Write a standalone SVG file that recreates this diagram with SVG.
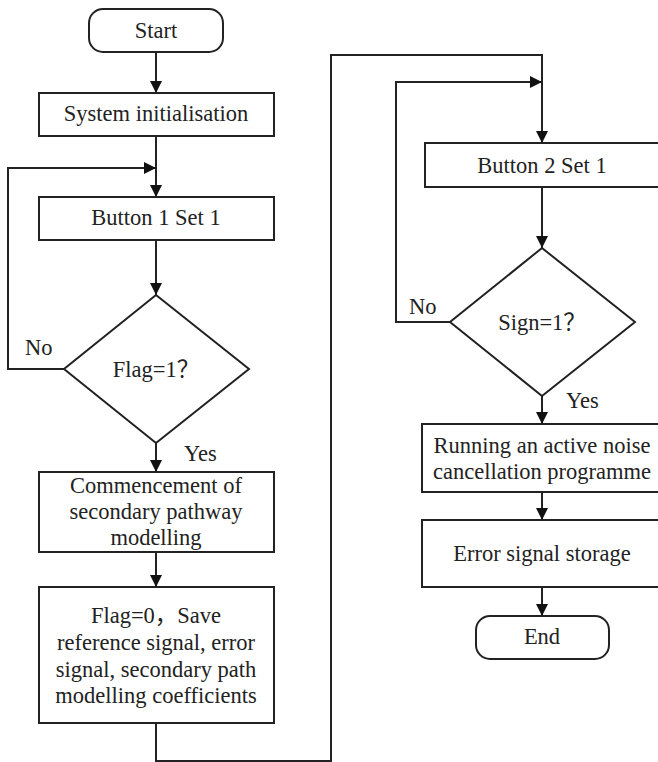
<svg xmlns="http://www.w3.org/2000/svg" width="658" height="762" viewBox="0 0 658 762">
<defs>
<marker id="ah" viewBox="0 0 12 12" refX="12" refY="6" markerWidth="12" markerHeight="12" markerUnits="userSpaceOnUse" orient="auto">
<path d="M0,0 L12,6 L0,12 Z" fill="#111"/>
</marker>
<style>
.box{fill:#fff;stroke:#222;stroke-width:2}
.ln{fill:none;stroke:#222;stroke-width:2}
text{font-family:'Liberation Serif','Times New Roman','DejaVu Serif','Noto Sans CJK SC',serif;font-size:22.5px;fill:#222}
.t{text-anchor:middle}
</style>
</defs>
<rect width="658" height="762" fill="#fff"/>
<g id="connectors">
<path class="ln" d="M156,52 V93" marker-end="url(#ah)"/>
<path class="ln" d="M156,136 V197" marker-end="url(#ah)"/>
<path class="ln" d="M64,369 H8 V168 H156" marker-end="url(#ah)"/>
<path class="ln" d="M156,240 V295" marker-end="url(#ah)"/>
<path class="ln" d="M156,443 V472" marker-end="url(#ah)"/>
<path class="ln" d="M156,552 V587" marker-end="url(#ah)"/>
<path class="ln" d="M156,723 V761 H331 V55 H542 V143" marker-end="url(#ah)"/>
<path class="ln" d="M450,322 H396 V82 H542" marker-end="url(#ah)"/>
<path class="ln" d="M542,187 V248" marker-end="url(#ah)"/>
<path class="ln" d="M542,396 V424" marker-end="url(#ah)"/>
<path class="ln" d="M542,492 V520" marker-end="url(#ah)"/>
<path class="ln" d="M542,587 V616" marker-end="url(#ah)"/>
<text x="25" y="355">No</text>
<text x="184" y="461">Yes</text>
<text x="409" y="314">No</text>
<text x="566" y="408">Yes</text>
</g>
<g id="start">
<rect class="box" x="89" y="9" width="134" height="43" rx="14"/>
<text class="t" x="156" y="38">Start</text>
</g>
<g id="init">
<rect class="box" x="39" y="93" width="235" height="43"/>
<text class="t" x="156" y="121">System initialisation</text>
</g>
<g id="button1">
<rect class="box" x="39" y="197" width="235" height="43"/>
<text class="t" x="156" y="225">Button 1 Set 1</text>
</g>
<g id="flag1">
<polygon class="box" points="156,295 249,369 156,443 64,369"/>
<text class="t" x="156" y="377">Flag=1？</text>
</g>
<g id="commence">
<rect class="box" x="39" y="472" width="235" height="80"/>
<text class="t" x="156" y="493">Commencement of</text>
<text class="t" x="156" y="519">secondary pathway</text>
<text class="t" x="156" y="545">modelling</text>
</g>
<g id="save">
<rect class="box" x="39" y="587" width="235" height="136"/>
<text class="t" x="156" y="623">Flag=0，Save</text>
<text class="t" x="156" y="650">reference signal, error</text>
<text class="t" x="156" y="677">signal, secondary path</text>
<text class="t" x="156" y="703">modelling coefficients</text>
</g>
<g id="button2">
<rect class="box" x="425" y="143" width="236" height="44"/>
<text class="t" x="542" y="173">Button 2 Set 1</text>
</g>
<g id="sign1">
<polygon class="box" points="542,248 635,322 542,396 450,322"/>
<text class="t" x="542" y="330">Sign=1？</text>
</g>
<g id="running">
<rect class="box" x="422" y="424" width="240" height="68"/>
<text class="t" x="542" y="453">Running an active noise</text>
<text class="t" x="542" y="479">cancellation programme</text>
</g>
<g id="storage">
<rect class="box" x="422" y="520" width="240" height="67"/>
<text class="t" x="542" y="561">Error signal storage</text>
</g>
<g id="end">
<rect class="box" x="476" y="616" width="133" height="43" rx="14"/>
<text class="t" x="542" y="644">End</text>
</g>
</svg>
